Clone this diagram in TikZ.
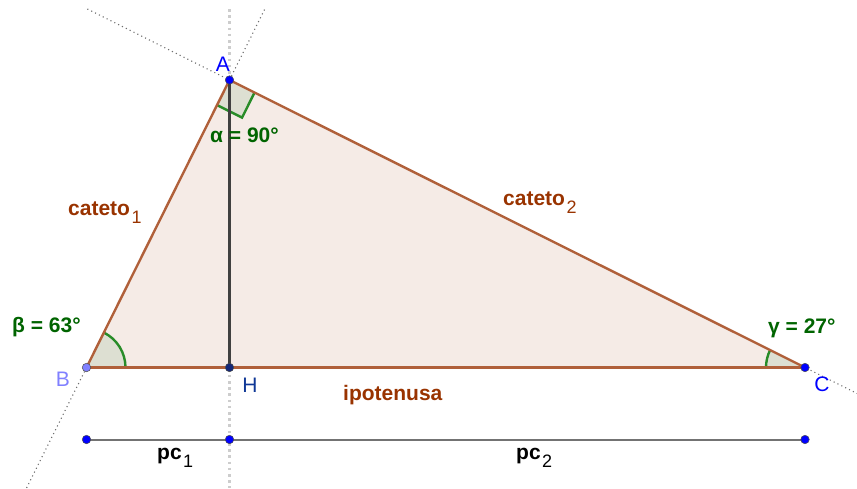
\documentclass[tikz,border=0pt]{standalone}
\usepackage{fontspec}
\setmainfont{Liberation Sans}
\usetikzlibrary{calc}
\definecolor{sidecol}{RGB}{176,96,58}
\definecolor{txtbrown}{RGB}{153,51,0}
\definecolor{trifill}{RGB}{245,235,230}
\definecolor{angfill}{RGB}{221,223,210}
\definecolor{angarc}{RGB}{40,140,40}
\definecolor{angtxt}{RGB}{0,100,0}
\definecolor{ptblue}{RGB}{0,0,255}
\definecolor{ptlight}{RGB}{128,128,255}
\definecolor{ptdark}{RGB}{20,40,120}
\definecolor{hlab}{RGB}{16,56,150}
\definecolor{auxgray}{RGB}{110,110,110}
\definecolor{vertgray}{RGB}{205,205,205}
\tikzset{
  side/.style={draw=sidecol,line width=2.4pt},
  alt/.style={draw=black!75,line width=2.4pt},
  aux/.style={draw=auxgray,line width=1.1pt,dash pattern=on 1.1pt off 3.2pt},
  vaux/.style={draw=vertgray,line width=2.6pt,dash pattern=on 2.6pt off 3.6pt},
  seg/.style={draw=black!55,line width=2pt},
  angsec/.style={fill=angfill},
  angline/.style={draw=angarc,line width=2.4pt},
  pt/.style={circle,inner sep=0pt,minimum size=8.5pt,draw=black!70,line width=0.5pt},
  lab/.style={inner sep=0pt,anchor=base west},
  ptlab/.style={inner sep=0pt,font=\fontsize{21}{24}\selectfont\mdseries},
}
\newcommand{\subtxt}[1]{\raisebox{-8pt}{\fontsize{18}{20}\selectfont\mdseries\kern1.5pt#1}}
\begin{document}
\begin{tikzpicture}[x=1pt,y=-1pt,font=\fontsize{21}{24}\selectfont\bfseries]
\useasboundingbox (0,0) rectangle (857,488);
\coordinate (A) at (229.5,80);
\coordinate (B) at (86.5,367.5);
\coordinate (C) at (805,367.5);
\coordinate (H) at (229.5,367.5);
\coordinate (P1) at (86.5,439.5);
\coordinate (P2) at (229.5,439.5);
\coordinate (P3) at (805,439.5);
% dotted construction lines
\coordinate (ABtop) at ($(B)!1.247!(A)$);
\coordinate (ABbot) at ($(B)!-0.419!(A)$);
\coordinate (ACtop) at ($(A)!-0.247!(C)$);
\coordinate (ACend) at ($(A)!1.0903!(C)$);
\coordinate (Vtop) at (229.5,9);
\coordinate (Vbot) at (229.5,488);
\draw[vaux] (Vtop) -- (Vbot);
\draw[aux] (ABbot) -- (ABtop);
\draw[aux] (ACtop) -- (ACend);
% triangle fill
\fill[trifill] (A) -- (B) -- (C) -- cycle;
% angle sectors
\coordinate (a1) at ($(A)!28pt!(B)$);
\coordinate (a2) at ($(A)!28pt!(C)$);
\coordinate (a3) at ($(a1)+(a2)-(A)$);
\fill[angsec] (A) -- (a1) -- (a3) -- (a2) -- cycle;
\fill[angsec] (B) -- ++(39,0) arc[start angle=0,end angle=-63.55,radius=39] -- cycle;
\fill[angsec] (C) -- ++(-39,0) arc[start angle=180,end angle=206.55,radius=39] -- cycle;
\draw[angline] (a1) -- (a3) -- (a2);
\draw[angline] ($(B)+(39,0)$) arc[start angle=0,end angle=-63.55,radius=39];
\draw[angline] ($(C)+(-39,0)$) arc[start angle=180,end angle=206.55,radius=39];
% sides
\draw[side] (A) -- (B);
\draw[side] (A) -- (C);
\draw[side] (B) -- (C);
\draw[alt] (A) -- (H);
% bottom segments
\draw[seg] (P1) -- (P2);
\draw[seg] (P2) -- (P3);
% points
\node[pt,fill=ptblue] (pA) at (A) {};
\node[pt,fill=ptlight] (pB) at (B) {};
\node[pt,fill=ptblue] (pC) at (C) {};
\node[pt,fill=ptdark] (pH) at (H) {};
\node[pt,fill=ptblue] (pP1) at (P1) {};
\node[pt,fill=ptblue] (pP2) at (P2) {};
\node[pt,fill=ptblue] (pP3) at (P3) {};
% point labels
\node[ptlab,text=ptblue] (lA) at (223,64) {A};
\node[ptlab,text=ptlight] (lB) at (63,379) {B};
\node[ptlab,text=hlab] (lH) at (250,385) {H};
\node[ptlab,text=ptblue] (lC) at (822,384) {C};
% angle labels
\node[lab,text=angtxt] (lal) at (210,142) {α = 90°};
\node[lab,text=angtxt] (lbe) at (12,332) {β = 63°};
\node[lab,text=angtxt] (lga) at (768,333) {γ = 27°};
% side labels
\node[lab,text=txtbrown] (lc1) at (68,215) {cateto\subtxt{1}};
\node[lab,text=txtbrown] (lc2) at (503,205) {cateto\subtxt{2}};
\node[lab,text=txtbrown] (lip) at (343,400) {ipotenusa};
\node[lab,text=black] (lp1) at (157,459) {pc\subtxt{1}};
\node[lab,text=black] (lp2) at (516,459) {pc\subtxt{2}};
\end{tikzpicture}
\end{document}
